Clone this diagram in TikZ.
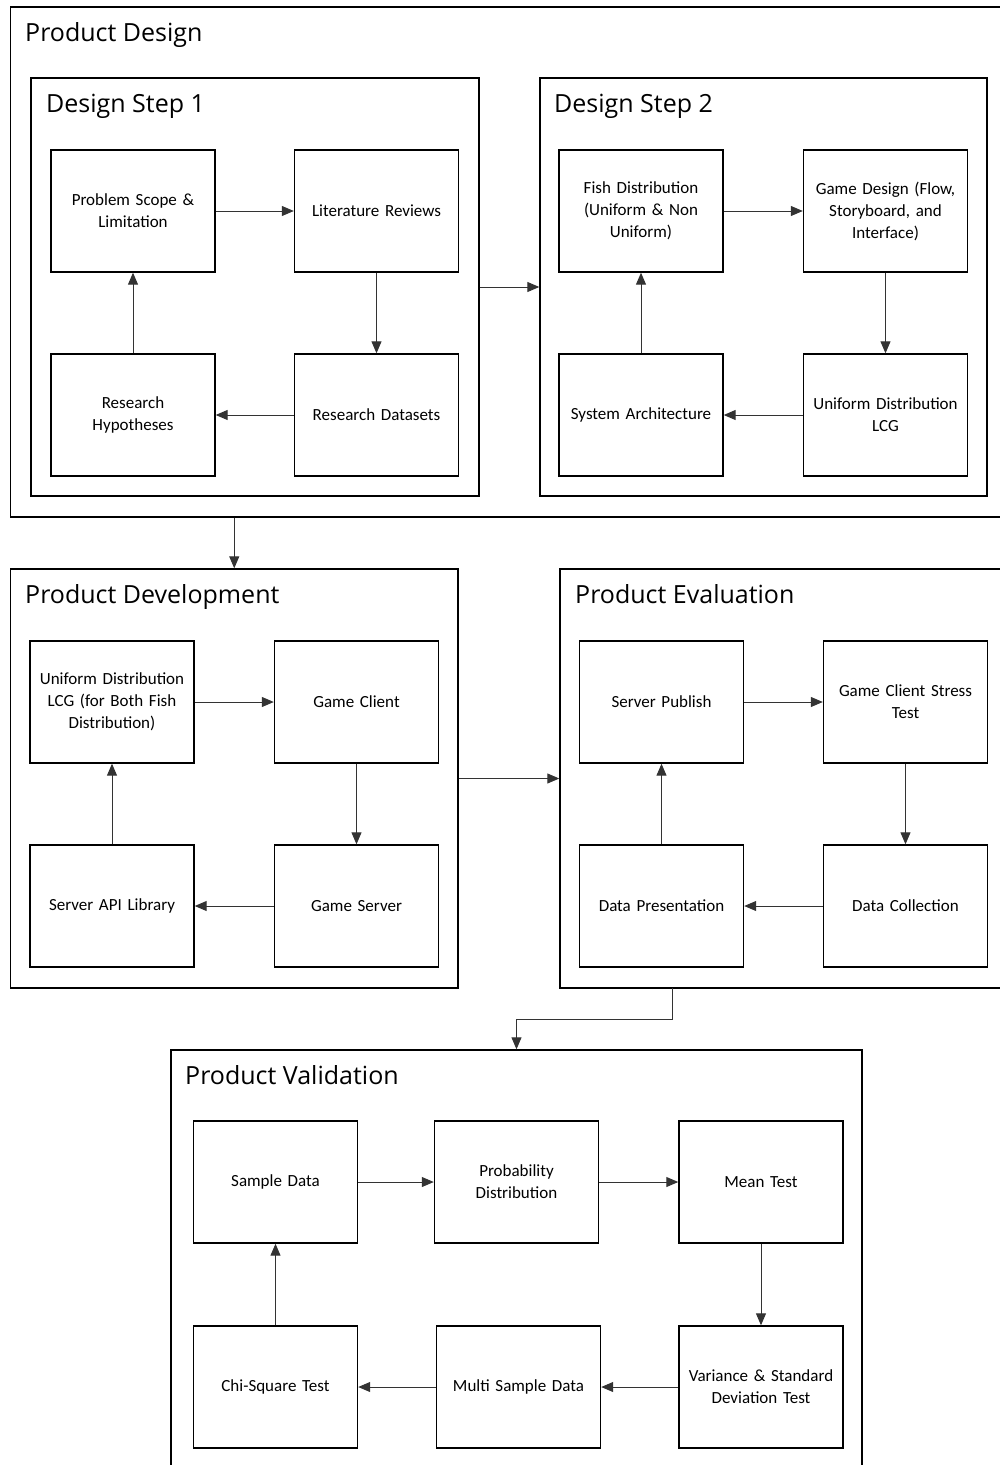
\documentclass[tikz,border=0pt]{standalone}
\usepackage{fontspec}
\setmainfont{Carlito}
\newfontfamily\titlefont{Open Sans}
\usetikzlibrary{arrows.meta}
\tikzset{
  px/.style={x=1pt,y=-1pt},
  box/.style={draw=black,line width=1.4pt,minimum width=163pt,minimum height=122pt,inner sep=2pt,align=center,font=\fontsize{17}{22}\selectfont,text width=160pt},
  container/.style={draw=black,line width=1.4pt,inner sep=0pt},
  ttl/.style={anchor=base west,inner sep=0pt,font=\titlefont\fontsize{25}{30}\selectfont},
  conn/.style={draw=black!80,line width=1pt,-{Triangle[length=12pt,width=10pt]}}
}
\begin{document}
\begin{tikzpicture}[px]
\useasboundingbox (0,0) rectangle (1000,1465);
\clip (0,0) rectangle (1000,1465);
% containers
\node[container,minimum width=994.5pt,minimum height=510pt] (pd) at (507.75,262) {};
\node[container,minimum width=448pt,minimum height=418pt] (s1) at (255,287) {};
\node[container,minimum width=447pt,minimum height=418pt] (s2) at (763.5,287) {};
\node[container,minimum width=447.5pt,minimum height=419pt] (dev) at (234.25,778.5) {};
\node[container,minimum width=445pt,minimum height=419pt] (ev) at (782.5,778.5) {};
\node[container,minimum width=691pt,minimum height=420pt] (val) at (516.5,1260) {};
% titles
\node[ttl] (tpd) at (25,41) {Product Design};
\node[ttl] (ts1) at (46,112) {Design Step 1};
\node[ttl] (ts2) at (554,112) {Design Step 2};
\node[ttl] (tdev) at (25,603) {Product Development};
\node[ttl] (tev) at (575,603) {Product Evaluation};
\node[ttl] (tval) at (185,1084) {Product Validation};
% step 1
\node[box] (ps) at (133,211) {Problem Scope \&\\Limitation};
\node[box] (lr) at (376.5,211) {Literature Reviews};
\node[box] (rh) at (133,415) {Research\\Hypotheses};
\node[box] (rd) at (376.5,415) {Research Datasets};
% step 2
\node[box] (fd) at (641,211) {Fish Distribution\\(Uniform \& Non\\Uniform)};
\node[box] (gd) at (885.5,211) {Game Design (Flow,\\Storyboard, and\\Interface)};
\node[box] (sa) at (641,415) {System Architecture};
\node[box] (ud) at (885.5,415) {Uniform Distribution\\LCG};
% development
\node[box] (lcg) at (112,702) {Uniform Distribution\\LCG (for Both Fish\\Distribution)};
\node[box] (gc) at (356.5,702) {Game Client};
\node[box] (api) at (112,906) {Server API Library};
\node[box] (gs) at (356.5,906) {Game Server};
% evaluation
\node[box] (sp) at (661.5,702) {Server Publish};
\node[box] (st) at (905.5,702) {Game Client Stress\\Test};
\node[box] (dp) at (661.5,906) {Data Presentation};
\node[box] (dc) at (905.5,906) {Data Collection};
% validation
\node[box] (sd) at (275.5,1182) {Sample Data};
\node[box] (prd) at (516.5,1182) {Probability\\Distribution};
\node[box] (mt) at (761,1182) {Mean Test};
\node[box] (cs) at (275.5,1387) {Chi-Square Test};
\node[box] (ms) at (518.5,1387) {Multi Sample Data};
\node[box] (vt) at (761,1387) {Variance \& Standard\\Deviation Test};
% connectors step 1
\draw[conn] (ps) -- (lr);
\draw[conn] (lr) -- (rd);
\draw[conn] (rd) -- (rh);
\draw[conn] (rh) -- (ps);
% step 2
\draw[conn] (fd) -- (gd);
\draw[conn] (gd) -- (ud);
\draw[conn] (ud) -- (sa);
\draw[conn] (sa) -- (fd);
% dev
\draw[conn] (lcg) -- (gc);
\draw[conn] (gc) -- (gs);
\draw[conn] (gs) -- (api);
\draw[conn] (api) -- (lcg);
% eval
\draw[conn] (sp) -- (st);
\draw[conn] (st) -- (dc);
\draw[conn] (dc) -- (dp);
\draw[conn] (dp) -- (sp);
% validation
\draw[conn] (sd) -- (prd);
\draw[conn] (prd) -- (mt);
\draw[conn] (mt) -- (vt);
\draw[conn] (vt) -- (ms);
\draw[conn] (ms) -- (cs);
\draw[conn] (cs) -- (sd);
% between containers
\draw[conn] (s1) -- (s2);
\draw[conn] (pd.south -| dev.north) -- (dev.north);
\draw[conn] (dev) -- (ev);
\coordinate (evout) at (672,988);
\draw[conn] (evout) -- (672,1019) -| (val.north);
\end{tikzpicture}
\end{document}
